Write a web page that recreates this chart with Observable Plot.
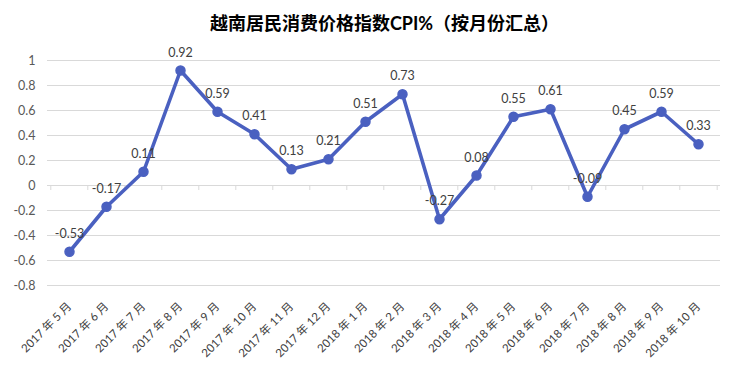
<!DOCTYPE html>
<html>
<head>
<meta charset="utf-8">
<script src="https://cdn.jsdelivr.net/npm/d3@7"></script>
<script src="https://cdn.jsdelivr.net/npm/@observablehq/plot@0.6"></script>
<style>
  body { margin: 0; background: #fff; font-family: Lato, "Noto Sans CJK SC", sans-serif; }
  #title { height: 40px; line-height: 46px; text-align: center; font-size: 18px; font-weight: bold; color: #000; padding-left: 32px; box-sizing: border-box; width: 737px; }
</style>
</head>
<body>
<div id="title">越南居民消费价格指数CPI%（按月份汇总）</div>
<div id="chart"></div>
<script>
const titleText = "越南居民消费价格指数CPI%（按月份汇总）";
const months = ["2017 年 5 月","2017 年 6 月","2017 年 7 月","2017 年 8 月","2017 年 9 月","2017 年 10 月","2017 年 11 月","2017 年 12 月","2018 年 1 月","2018 年 2 月","2018 年 3 月","2018 年 4 月","2018 年 5 月","2018 年 6 月","2018 年 7 月","2018 年 8 月","2018 年 9 月","2018 年 10 月"];
const cpi = [-0.53,-0.17,0.11,0.92,0.59,0.41,0.13,0.21,0.51,0.73,-0.27,0.08,0.55,0.61,-0.09,0.45,0.59,0.33];
const yTicks = [-0.8,-0.6,-0.4,-0.2,0,0.2,0.4,0.6,0.8,1];

document.getElementById("title").textContent = titleText;
const data = months.map((m, i) => ({month: m, value: cpi[i]}));

const W = 737, H = 332, ML = 47, MR = 17;
const step = (W - ML - MR) / months.length;
const lineColor = "#4a60c0";
const grid = "#d9d9d9";

const chart = Plot.plot({
  width: W,
  height: H,
  marginLeft: ML,
  marginRight: MR,
  marginTop: 20,
  marginBottom: 87,
  style: {fontFamily: "Lato, 'Noto Sans CJK SC', sans-serif", background: "#fff"},
  x: {type: "point", domain: months, padding: 0.5, label: null},
  y: {domain: [-0.8, 1], label: null},
  marks: [
    Plot.ruleY(yTicks, {stroke: grid, strokeWidth: 1}),
    Plot.ruleX(months, {x: d => d, y1: 0, y2: -0.04, dx: -step / 2, stroke: grid}),
    Plot.ruleX([months[months.length - 1]], {x: d => d, y1: 0, y2: -0.04, dx: step / 2, stroke: grid}),
    Plot.axisY({ticks: yTicks, tickSize: 0, tickPadding: 12, tickFormat: d => String(d), fontSize: 12.5, color: "#595959", label: null}),
    Plot.axisX({tickSize: 0, tickPadding: 19, tickRotate: -45, fontSize: 11.5, color: "#404040", label: null}),
    Plot.line(data, {x: "month", y: "value", stroke: lineColor, strokeWidth: 3.6, strokeLinejoin: "round"}),
    Plot.dot(data, {x: "month", y: "value", r: 4.5, fill: lineColor, stroke: lineColor}),
    Plot.text(data, {x: "month", y: "value", text: d => String(d.value), dy: -18, fontSize: 12.5, fill: "#404040"})
  ]
});
document.getElementById("chart").appendChild(chart);
</script>
</body>
</html>
